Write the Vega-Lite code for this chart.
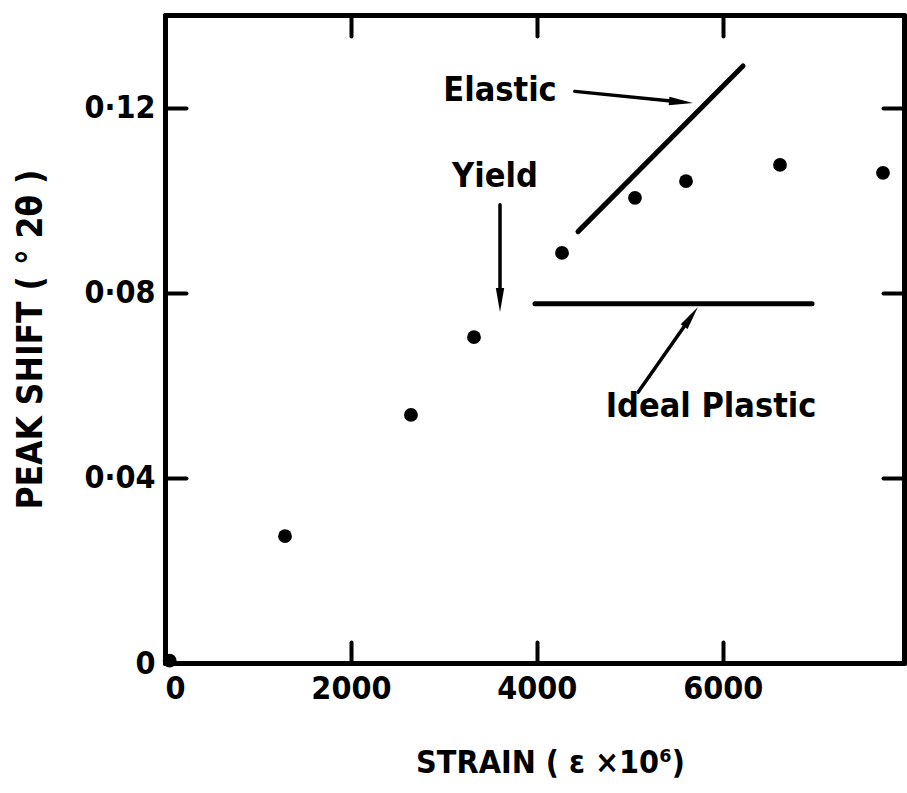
{
  "$schema": "https://vega.github.io/schema/vega-lite/v6.json",
  "autosize": {"type": "none"},
  "padding": {"left": 165, "top": 15, "right": 3, "bottom": 130},
  "width": 739,
  "height": 648,
  "background": "white",
  "config": {
    "view": {"stroke": null},
    "font": "DejaVu Sans Condensed, DejaVu Sans",
    "axis": {
      "domainColor": "black", "domainWidth": 5, "domainCap": "round",
      "tickColor": "black", "tickWidth": 4, "tickSize": -21, "tickCap": "round",
      "grid": false, "zindex": 1,
      "labelFont": "DejaVu Sans Condensed, DejaVu Sans", "labelFontWeight": "bold", "labelFontSize": 32, "labelColor": "black",
      "titleFont": "DejaVu Sans Condensed, DejaVu Sans", "titleFontWeight": "bold", "titleFontSize": 32, "titleColor": "black"
    }
  },
  "datasets": {
    "points": [
      {"strain": 50, "shift": 0.0005},
      {"strain": 1291, "shift": 0.0274},
      {"strain": 2646, "shift": 0.0536},
      {"strain": 3324, "shift": 0.0704},
      {"strain": 4271, "shift": 0.0886},
      {"strain": 5056, "shift": 0.1005},
      {"strain": 5605, "shift": 0.1041},
      {"strain": 6616, "shift": 0.1076},
      {"strain": 7724, "shift": 0.1059}
    ],
    "lines": [
      {"name": "elastic", "x": 4443, "y": 0.0932, "x2": 6218, "y2": 0.1290},
      {"name": "plastic", "x": 3980, "y": 0.0776, "x2": 6961, "y2": 0.0776}
    ],
    "arrows": [
      {"name": "elastic", "x": 4409, "y": 0.1235, "x2": 5551, "y2": 0.1212},
      {"name": "yield", "x": 3604, "y": 0.0990, "x2": 3604, "y2": 0.0784},
      {"name": "plastic", "x": 5089, "y": 0.0585, "x2": 5659, "y2": 0.0748}
    ],
    "labels": [
      {"label": "Elastic", "x": 3604, "y": 0.1236},
      {"label": "Yield", "x": 3550, "y": 0.1050},
      {"label": "Ideal  Plastic", "x": 5874, "y": 0.0553}
    ]
  },
  "resolve": {"axis": {"x": "independent", "y": "independent"}},
  "layer": [
    {
      "data": {"name": "points"},
      "mark": {"type": "point", "filled": true, "color": "black", "size": 190, "opacity": 1},
      "encoding": {
        "x": {"field": "strain", "type": "quantitative",
          "scale": {"domain": [0, 7950], "nice": false, "zero": false},
          "axis": {"orient": "bottom", "values": [0, 2000, 4000, 6000], "labelPadding": 31, "format": "d",
            "title": "STRAIN ( ε ×10⁶)", "titleX": 385, "titleY": 99, "titleBaseline": "middle", "titleAnchor": null}},
        "y": {"field": "shift", "type": "quantitative",
          "scale": {"domain": [0, 0.14], "nice": false, "zero": false},
          "axis": {"orient": "left", "values": [0, 0.04, 0.08, 0.12], "labelPadding": 31,
            "labelExpr": "datum.value == 0 ? '0' : replace(format(datum.value, '.2f'), '.', '·')",
            "title": "PEAK SHIFT ( ° 2θ )", "titleFontSize": 35, "titleX": -135, "titleY": 324, "titleBaseline": "middle", "titleAngle": -90}}
      }
    },
    {
      "data": {"name": "lines"},
      "mark": {"type": "rule", "color": "black", "strokeWidth": 5, "strokeCap": "round"},
      "encoding": {
        "x": {"field": "x", "type": "quantitative", "scale": {"domain": [0, 7950], "nice": false, "zero": false},
          "axis": {"orient": "top", "values": [0, 2000, 4000, 6000], "labels": false, "title": null}},
        "y": {"field": "y", "type": "quantitative", "scale": {"domain": [0, 0.14], "nice": false, "zero": false},
          "axis": {"orient": "right", "values": [0, 0.04, 0.08, 0.12], "labels": false, "title": null}},
        "x2": {"field": "x2"},
        "y2": {"field": "y2"}
      }
    },
    {
      "data": {"name": "arrows"},
      "mark": {"type": "rule", "color": "black", "strokeWidth": 3.5, "strokeCap": "round"},
      "encoding": {
        "x": {"field": "x", "type": "quantitative", "axis": null},
        "y": {"field": "y", "type": "quantitative", "axis": null},
        "x2": {"field": "x2"},
        "y2": {"field": "y2"}
      }
    },
    {
      "data": {"name": "arrows"},
      "transform": [{"filter": "datum.name == 'elastic'"}],
      "mark": {"type": "point", "shape": "M0,-1L0.35,1L-0.35,1Z", "filled": true, "color": "black", "opacity": 1, "size": 576, "angle": 95},
      "encoding": {
        "x": {"field": "x2", "type": "quantitative", "axis": null},
        "y": {"field": "y2", "type": "quantitative", "axis": null}
      }
    },
    {
      "data": {"name": "arrows"},
      "transform": [{"filter": "datum.name == 'yield'"}],
      "mark": {"type": "point", "shape": "M0,-1L0.35,1L-0.35,1Z", "filled": true, "color": "black", "opacity": 1, "size": 576, "angle": 180},
      "encoding": {
        "x": {"field": "x2", "type": "quantitative", "axis": null},
        "y": {"field": "y2", "type": "quantitative", "axis": null}
      }
    },
    {
      "data": {"name": "arrows"},
      "transform": [{"filter": "datum.name == 'plastic'"}],
      "mark": {"type": "point", "shape": "M0,-1L0.35,1L-0.35,1Z", "filled": true, "color": "black", "opacity": 1, "size": 576, "angle": 35},
      "encoding": {
        "x": {"field": "x2", "type": "quantitative", "axis": null},
        "y": {"field": "y2", "type": "quantitative", "axis": null}
      }
    },
    {
      "data": {"name": "labels"},
      "mark": {"type": "text", "font": "DejaVu Sans Condensed, DejaVu Sans", "fontWeight": "bold", "fontSize": 34, "align": "center", "baseline": "middle", "color": "black"},
      "encoding": {
        "x": {"field": "x", "type": "quantitative", "axis": null},
        "y": {"field": "y", "type": "quantitative", "axis": null},
        "text": {"field": "label"}
      }
    }
  ]
}
